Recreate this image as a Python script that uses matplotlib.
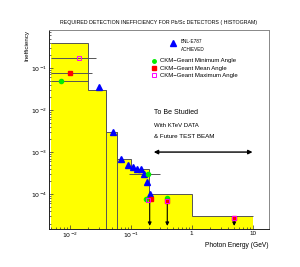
import matplotlib
matplotlib.use("Agg")
import matplotlib.pyplot as plt

plt.rcParams["font.family"] = ["Liberation Sans", "DejaVu Sans"]

# required inefficiency histogram
bin_edges = [0.005, 0.02, 0.04, 0.06, 0.1, 0.2, 1.0, 10.0]
bin_tops = [0.40, 0.030, 0.0030, 6.7e-4, 4.0e-4, 1.0e-4, 3.0e-5]

# BNL-E787 achieved
e787_x = [0.0305, 0.051, 0.070, 0.090, 0.109, 0.128, 0.149, 0.168, 0.186, 0.206]
e787_y = [0.035, 0.0030, 6.8e-4, 4.9e-4, 4.5e-4, 4.0e-4, 4.0e-4, 2.95e-4, 1.9e-4, 1.0e-4]

# CKM-Geant points
min_x = [0.00726, 0.196, 0.177, 0.40]
min_y = [0.050, 3.0e-4, 7.6e-5, 8.1e-5]
mean_x = [0.0103, 0.214, 0.40, 5.0]
mean_y = [0.077, 7.7e-5, 6.9e-5, 2.7e-5]
max_x = [0.0142, 0.196, 0.40, 5.0]
max_y = [0.17, 7.4e-5, 6.8e-5, 2.7e-5]

# horizontal range bars (x, y, lo, hi)
range_x = [0.0142, 0.0103, 0.00726, 0.196]
range_y = [0.17, 0.077, 0.050, 3.0e-4]
range_lo = [0.005, 0.005, 0.005, 0.096]
range_hi = [0.027, 0.023, 0.020, 0.30]

# upper-limit arrows
arrow_x = [0.206, 0.40, 5.0]
arrow_y = [8.0e-5, 7.0e-5, 2.7e-5]

fig = plt.figure(figsize=(3.0, 2.67), dpi=100)
ax = fig.add_axes([0.1633, 0.1423, 0.7333, 0.7453])

ax.stairs(bin_tops, bin_edges, baseline=1e-6, fill=True, color="#ffff00", zorder=1)
ax.stairs(bin_tops, bin_edges, baseline=None, color="#555555", lw=0.7, zorder=2)
ax.vlines(bin_edges[2:4], 1e-6, bin_tops[1:3], color="#555555", lw=0.7, zorder=2)

xerr = [[x - lo for x, lo in zip(range_x, range_lo)],
        [hi - x for x, hi in zip(range_x, range_hi)]]
ax.errorbar(range_x, range_y, xerr=xerr, fmt="none", ecolor="#555555",
            elinewidth=0.7, capsize=0, zorder=3)

for x, y in zip(arrow_x, arrow_y):
    ax.annotate("", xy=(x, 1.75e-5), xytext=(x, y),
                arrowprops=dict(arrowstyle="-|>", color="black", lw=0.8,
                                mutation_scale=5, shrinkA=0, shrinkB=0),
                zorder=4)

ax.plot(e787_x, e787_y, "^", color="#0000ff", ms=4, mec="#0000ff", zorder=5)
ax.plot(min_x, min_y, "o", color="#00ee00", ms=3, mec="#00ee00", zorder=6)
ax.plot(mean_x, mean_y, "s", color="#ff0000", ms=3, mec="#ff0000", zorder=6)
ax.plot(max_x, max_y, "s", mfc="none", mec="#ff00ff", ms=3, mew=0.7, zorder=7)

ax.annotate("", xy=(0.24, 1.0e-3), xytext=(10.0, 1.0e-3),
            arrowprops=dict(arrowstyle="<|-|>", color="black", lw=1.0,
                            mutation_scale=6, shrinkA=0, shrinkB=0))

ax.text(0.24, 8.7e-3, "To Be Studied", fontsize=5, va="center")
ax.text(0.24, 4.3e-3, "With KTeV DATA", fontsize=4.3, va="center")
ax.text(0.24, 2.3e-3, "& Future TEST BEAM", fontsize=4.5, va="center")

# legend drawn by hand
tr = ax.transAxes
ax.plot([0.564], [0.936], "^", color="#0000ff", ms=4, transform=tr)
ax.text(0.600, 0.944, "BNL-E787", fontsize=3.3, va="center", transform=tr)
ax.text(0.600, 0.903, "ACHIEVED", fontsize=3.3, va="center", transform=tr)
ax.plot([0.479], [0.846], "o", color="#00ee00", ms=2.5, transform=tr)
ax.plot([0.479], [0.808], "s", color="#ff0000", ms=2.5, transform=tr)
ax.plot([0.479], [0.772], "s", mfc="none", mec="#ff00ff", ms=2.5, mew=0.7, transform=tr)
ax.text(0.503, 0.846, "CKM\u2212Geant Minimum Angle", fontsize=4.3, va="center", transform=tr)
ax.text(0.503, 0.808, "CKM\u2212Geant Mean Angle", fontsize=4.3, va="center", transform=tr)
ax.text(0.503, 0.772, "CKM\u2212Geant Maximum Angle", fontsize=4.3, va="center", transform=tr)

ax.set_xscale("log")
ax.set_yscale("log")
ax.set_xlim(0.0046, 18.6)
ax.set_ylim(1.48e-5, 0.80)

ax.set_xticks([0.01, 0.1, 1, 10])
ax.set_xticklabels([r"$10^{-2}$", r"$10^{-1}$", "1", "10"])
ax.set_yticks([1e-1, 1e-2, 1e-3, 1e-4])
ax.set_yticklabels([r"$10^{-1}$", r"$10^{-2}$", r"$10^{-3}$", r"$10^{-4}$"])
ax.tick_params(which="both", direction="in", labelsize=4.5, color="#333333",
               width=0.5, pad=1.5)
ax.tick_params(which="major", length=3)
ax.tick_params(which="minor", length=1.5)

for side in ["left", "bottom"]:
    ax.spines[side].set_color("#222222")
    ax.spines[side].set_linewidth(0.7)
for side in ["top", "right"]:
    ax.spines[side].set_color("#888888")
    ax.spines[side].set_linewidth(0.7)

ax.set_xlabel("Photon Energy (GeV)", fontsize=4.8, loc="right", labelpad=1)
ax.set_ylabel("Inefficiency", fontsize=4.5, loc="top", labelpad=1)

fig.text(0.53, 0.915, "REQUIRED DETECTION INEFFICIENCY FOR Pb/Sc DETECTORS ( HISTOGRAM)",
         fontsize=3.8, ha="center", va="center")

fig.savefig("out.png", dpi=100)
